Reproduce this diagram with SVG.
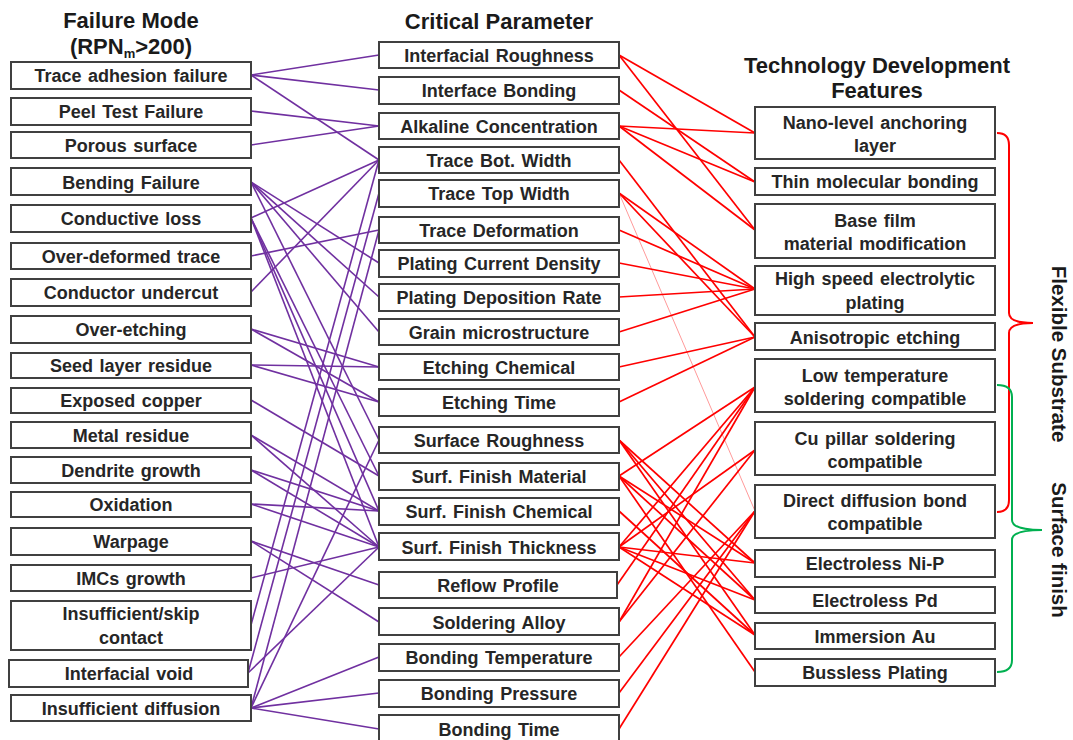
<svg xmlns="http://www.w3.org/2000/svg" width="1073" height="740" viewBox="0 0 1073 740">
<style>
.box{fill:#fff;stroke:#404040;stroke-width:2}
.t{font-family:"Liberation Sans",Arial,sans-serif;font-weight:bold;font-size:18px;word-spacing:1.5px;fill:#262626;text-anchor:middle}
.h{font-family:"Liberation Sans",Arial,sans-serif;font-weight:bold;font-size:22px;fill:#1a1a1a;text-anchor:middle}
.s{font-family:"Liberation Sans",Arial,sans-serif;font-weight:bold;font-size:20.5px;fill:#1a1a1a;text-anchor:middle}
.p{stroke:#7030A0;stroke-width:1.6;fill:none}
.r{stroke:#FF0000;stroke-width:1.7;fill:none}
.rf{stroke:#FF0000;stroke-width:1;opacity:0.4;fill:none}
</style>
<rect width="1073" height="740" fill="#fff"/>
<g id="headers">
<text class="h" x="131" y="28">Failure Mode</text>
<text class="h" x="131" y="54">(RPN<tspan font-size="13" dy="4">m</tspan><tspan dy="-4">&gt;200)</tspan></text>
<text class="h" x="499" y="29">Critical Parameter</text>
<text class="h" x="877" y="73">Technology Development</text>
<text class="h" x="877" y="98">Features</text>
</g>
<g id="connectors">
<g id="purple">
<line class="p" x1="251" y1="75" x2="379" y2="55"/>
<line class="p" x1="251" y1="75" x2="379" y2="90"/>
<line class="p" x1="251" y1="75" x2="379" y2="160"/>
<line class="p" x1="251" y1="111" x2="379" y2="126"/>
<line class="p" x1="251" y1="145" x2="379" y2="126"/>
<line class="p" x1="251" y1="182" x2="379" y2="263"/>
<line class="p" x1="251" y1="182" x2="379" y2="297"/>
<line class="p" x1="251" y1="182" x2="379" y2="332"/>
<line class="p" x1="251" y1="182" x2="379" y2="440"/>
<line class="p" x1="251" y1="218" x2="379" y2="160"/>
<line class="p" x1="251" y1="218" x2="379" y2="476"/>
<line class="p" x1="251" y1="218" x2="379" y2="511"/>
<line class="p" x1="251" y1="218" x2="379" y2="547"/>
<line class="p" x1="251" y1="256" x2="379" y2="230"/>
<line class="p" x1="251" y1="292" x2="379" y2="160"/>
<line class="p" x1="251" y1="329" x2="379" y2="367"/>
<line class="p" x1="251" y1="329" x2="379" y2="402"/>
<line class="p" x1="251" y1="365" x2="379" y2="367"/>
<line class="p" x1="251" y1="365" x2="379" y2="402"/>
<line class="p" x1="251" y1="400" x2="379" y2="476"/>
<line class="p" x1="251" y1="435" x2="379" y2="511"/>
<line class="p" x1="251" y1="435" x2="379" y2="547"/>
<line class="p" x1="251" y1="470" x2="379" y2="511"/>
<line class="p" x1="251" y1="470" x2="379" y2="547"/>
<line class="p" x1="251" y1="504" x2="379" y2="511"/>
<line class="p" x1="251" y1="504" x2="379" y2="547"/>
<line class="p" x1="251" y1="541" x2="379" y2="585"/>
<line class="p" x1="251" y1="541" x2="379" y2="622"/>
<line class="p" x1="251" y1="578" x2="379" y2="547"/>
<line class="p" x1="251" y1="625" x2="379" y2="160"/>
<line class="p" x1="248" y1="673" x2="379" y2="193"/>
<line class="p" x1="248" y1="673" x2="379" y2="547"/>
<line class="p" x1="251" y1="708" x2="379" y2="230"/>
<line class="p" x1="251" y1="708" x2="379" y2="440"/>
<line class="p" x1="251" y1="708" x2="379" y2="657"/>
<line class="p" x1="251" y1="708" x2="379" y2="693"/>
<line class="p" x1="251" y1="708" x2="379" y2="729"/>
</g>
<g id="red">
<line class="r" x1="619" y1="55" x2="755" y2="133"/>
<line class="r" x1="619" y1="55" x2="755" y2="230"/>
<line class="r" x1="619" y1="90" x2="755" y2="182"/>
<line class="r" x1="619" y1="126" x2="755" y2="133"/>
<line class="r" x1="619" y1="126" x2="755" y2="182"/>
<line class="r" x1="619" y1="126" x2="755" y2="230"/>
<line class="r" x1="619" y1="160" x2="755" y2="337"/>
<line class="r" x1="619" y1="193" x2="755" y2="289"/>
<line class="r" x1="619" y1="193" x2="755" y2="337"/>
<line class="rf" x1="619" y1="193" x2="755" y2="511"/>
<line class="r" x1="619" y1="230" x2="755" y2="289"/>
<line class="r" x1="619" y1="263" x2="755" y2="289"/>
<line class="r" x1="619" y1="297" x2="755" y2="289"/>
<line class="r" x1="619" y1="332" x2="755" y2="289"/>
<line class="r" x1="619" y1="367" x2="755" y2="337"/>
<line class="r" x1="619" y1="402" x2="755" y2="337"/>
<line class="r" x1="619" y1="440" x2="755" y2="563"/>
<line class="r" x1="619" y1="440" x2="755" y2="600"/>
<line class="r" x1="619" y1="440" x2="755" y2="635"/>
<line class="r" x1="619" y1="476" x2="755" y2="387"/>
<line class="r" x1="619" y1="476" x2="755" y2="563"/>
<line class="r" x1="619" y1="476" x2="755" y2="600"/>
<line class="r" x1="619" y1="476" x2="755" y2="672"/>
<line class="r" x1="619" y1="511" x2="755" y2="635"/>
<line class="r" x1="619" y1="547" x2="755" y2="387"/>
<line class="r" x1="619" y1="547" x2="755" y2="450"/>
<line class="r" x1="619" y1="547" x2="755" y2="563"/>
<line class="r" x1="619" y1="547" x2="755" y2="600"/>
<line class="r" x1="619" y1="547" x2="755" y2="635"/>
<line class="r" x1="617" y1="585" x2="755" y2="387"/>
<line class="r" x1="619" y1="622" x2="755" y2="387"/>
<line class="r" x1="619" y1="622" x2="755" y2="450"/>
<line class="r" x1="619" y1="657" x2="755" y2="511"/>
<line class="r" x1="619" y1="693" x2="755" y2="511"/>
<line class="r" x1="619" y1="729" x2="755" y2="511"/>
</g>
<g id="braces">
<path d="M997 133 Q1009 133 1009 145 L1009 313 Q1009 323 1033 323 Q1009 323 1009 333 L1009 500 Q1009 512 997 512" fill="none" stroke="#FF0000" stroke-width="2"/>
<path d="M997 385 Q1012 385 1012 397 L1012 520 Q1012 530 1042 530 Q1012 530 1012 540 L1012 660 Q1012 672 997 672" fill="none" stroke="#00B050" stroke-width="2"/>
</g>
</g>
<g id="left">
<g id="f1"><rect class="box" x="11" y="62" width="240" height="27"/><text class="t" x="131" y="82">Trace adhesion failure</text></g>
<g id="f2"><rect class="box" x="11" y="98" width="240" height="27"/><text class="t" x="131" y="118">Peel Test Failure</text></g>
<g id="f3"><rect class="box" x="11" y="132" width="240" height="26"/><text class="t" x="131" y="152">Porous surface</text></g>
<g id="f4"><rect class="box" x="11" y="168" width="240" height="27"/><text class="t" x="131" y="189">Bending Failure</text></g>
<g id="f5"><rect class="box" x="11" y="205" width="240" height="27"/><text class="t" x="131" y="225">Conductive loss</text></g>
<g id="f6"><rect class="box" x="11" y="243" width="240" height="26"/><text class="t" x="131" y="263">Over-deformed trace</text></g>
<g id="f7"><rect class="box" x="11" y="279" width="240" height="27"/><text class="t" x="131" y="299">Conductor undercut</text></g>
<g id="f8"><rect class="box" x="11" y="316" width="240" height="27"/><text class="t" x="131" y="336">Over-etching</text></g>
<g id="f9"><rect class="box" x="11" y="353" width="240" height="25"/><text class="t" x="131" y="372">Seed layer residue</text></g>
<g id="f10"><rect class="box" x="11" y="388" width="240" height="25"/><text class="t" x="131" y="407">Exposed copper</text></g>
<g id="f11"><rect class="box" x="11" y="422" width="240" height="26"/><text class="t" x="131" y="442">Metal residue</text></g>
<g id="f12"><rect class="box" x="11" y="457" width="240" height="26"/><text class="t" x="131" y="477">Dendrite growth</text></g>
<g id="f13"><rect class="box" x="11" y="492" width="240" height="25"/><text class="t" x="131" y="511">Oxidation</text></g>
<g id="f14"><rect class="box" x="11" y="528" width="240" height="27"/><text class="t" x="131" y="548">Warpage</text></g>
<g id="f15"><rect class="box" x="11" y="565" width="240" height="26"/><text class="t" x="131" y="585">IMCs growth</text></g>
<g id="f16"><rect class="box" x="11" y="601" width="240" height="49"/><text class="t" x="131" y="620">Insufficient/skip</text><text class="t" x="131" y="644">contact</text></g>
<g id="f17"><rect class="box" x="9" y="660" width="239" height="27"/><text class="t" x="129" y="680">Interfacial void</text></g>
<g id="f18"><rect class="box" x="11" y="695" width="240" height="26"/><text class="t" x="131" y="715">Insufficient diffusion</text></g>
</g>
<g id="middle">
<g id="c1"><rect class="box" x="379" y="42" width="240" height="26"/><text class="t" x="499" y="62">Interfacial Roughness</text></g>
<g id="c2"><rect class="box" x="379" y="77" width="240" height="27"/><text class="t" x="499" y="97">Interface Bonding</text></g>
<g id="c3"><rect class="box" x="379" y="113" width="240" height="26"/><text class="t" x="499" y="133">Alkaline Concentration</text></g>
<g id="c4"><rect class="box" x="379" y="147" width="240" height="26"/><text class="t" x="499" y="167">Trace Bot. Width</text></g>
<g id="c5"><rect class="box" x="379" y="180" width="240" height="27"/><text class="t" x="499" y="200">Trace Top Width</text></g>
<g id="c6"><rect class="box" x="379" y="217" width="240" height="26"/><text class="t" x="499" y="237">Trace Deformation</text></g>
<g id="c7"><rect class="box" x="379" y="250" width="240" height="27"/><text class="t" x="499" y="270">Plating Current Density</text></g>
<g id="c8"><rect class="box" x="379" y="284" width="240" height="27"/><text class="t" x="499" y="304">Plating Deposition Rate</text></g>
<g id="c9"><rect class="box" x="379" y="319" width="240" height="26"/><text class="t" x="499" y="339">Grain microstructure</text></g>
<g id="c10"><rect class="box" x="379" y="354" width="240" height="26"/><text class="t" x="499" y="374">Etching Chemical</text></g>
<g id="c11"><rect class="box" x="379" y="389" width="240" height="27"/><text class="t" x="499" y="409">Etching Time</text></g>
<g id="c12"><rect class="box" x="379" y="427" width="240" height="26"/><text class="t" x="499" y="447">Surface Roughness</text></g>
<g id="c13"><rect class="box" x="379" y="463" width="240" height="27"/><text class="t" x="499" y="483">Surf. Finish Material</text></g>
<g id="c14"><rect class="box" x="379" y="498" width="240" height="27"/><text class="t" x="499" y="518">Surf. Finish Chemical</text></g>
<g id="c15"><rect class="box" x="379" y="533" width="240" height="27"/><text class="t" x="499" y="554">Surf. Finish Thickness</text></g>
<g id="c16"><rect class="box" x="379" y="572" width="238" height="26"/><text class="t" x="498" y="592">Reflow Profile</text></g>
<g id="c17"><rect class="box" x="379" y="608" width="240" height="27"/><text class="t" x="499" y="629">Soldering Alloy</text></g>
<g id="c18"><rect class="box" x="379" y="644" width="240" height="27"/><text class="t" x="499" y="664">Bonding Temperature</text></g>
<g id="c19"><rect class="box" x="379" y="680" width="240" height="27"/><text class="t" x="499" y="700">Bonding Pressure</text></g>
<g id="c20"><rect class="box" x="379" y="715" width="240" height="27"/><text class="t" x="499" y="736">Bonding Time</text></g>
</g>
<g id="right">
<g id="d1"><rect class="box" x="755" y="107" width="240" height="52"/><text class="t" x="875" y="129">Nano-level anchoring</text><text class="t" x="875" y="152">layer</text></g>
<g id="d2"><rect class="box" x="755" y="168" width="240" height="27"/><text class="t" x="875" y="188">Thin molecular bonding</text></g>
<g id="d3"><rect class="box" x="755" y="204" width="240" height="54"/><text class="t" x="875" y="227">Base film</text><text class="t" x="875" y="250">material modification</text></g>
<g id="d4"><rect class="box" x="755" y="266" width="240" height="49"/><text class="t" x="875" y="285">High speed electrolytic</text><text class="t" x="875" y="309">plating</text></g>
<g id="d5"><rect class="box" x="755" y="323" width="240" height="27"/><text class="t" x="875" y="344">Anisotropic etching</text></g>
<g id="d6"><rect class="box" x="755" y="359" width="240" height="53"/><text class="t" x="875" y="382">Low temperature</text><text class="t" x="875" y="405">soldering compatible</text></g>
<g id="d7"><rect class="box" x="755" y="422" width="240" height="53"/><text class="t" x="875" y="445">Cu pillar soldering</text><text class="t" x="875" y="468">compatible</text></g>
<g id="d8"><rect class="box" x="755" y="485" width="240" height="53"/><text class="t" x="875" y="507">Direct diffusion bond</text><text class="t" x="875" y="530">compatible</text></g>
<g id="d9"><rect class="box" x="755" y="550" width="240" height="27"/><text class="t" x="875" y="570">Electroless Ni-P</text></g>
<g id="d10"><rect class="box" x="755" y="587" width="240" height="26"/><text class="t" x="875" y="607">Electroless Pd</text></g>
<g id="d11"><rect class="box" x="755" y="623" width="240" height="26"/><text class="t" x="875" y="643">Immersion Au</text></g>
<g id="d12"><rect class="box" x="755" y="659" width="240" height="27"/><text class="t" x="875" y="679">Bussless Plating</text></g>
</g>
<g id="side-labels">
<text class="s" transform="translate(1052,354) rotate(90)">Flexible Substrate</text>
<text class="s" transform="translate(1052,550) rotate(90)">Surface finish</text>
</g>
</svg>
